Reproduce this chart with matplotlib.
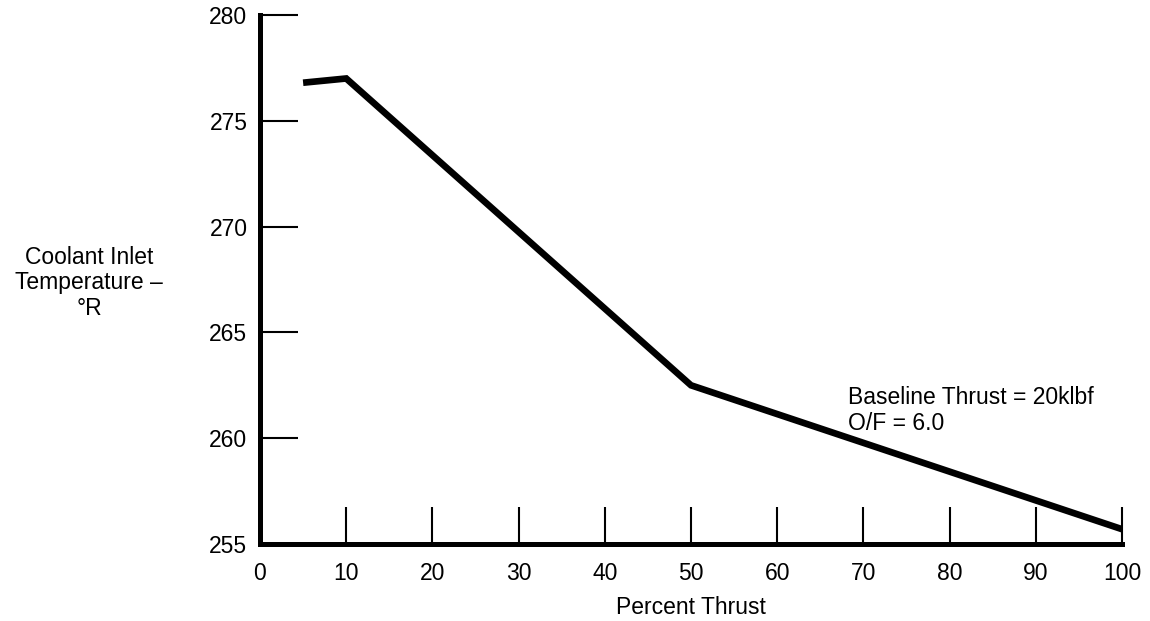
import matplotlib
matplotlib.use("Agg")
import matplotlib.pyplot as plt

plt.rcParams['font.family'] = ['Liberation Sans', 'DejaVu Sans']

# data
thrust = [5, 10, 50, 100]
temp = [276.8, 277.0, 262.5, 255.7]
xticks = [0, 10, 20, 30, 40, 50, 60, 70, 80, 90, 100]
yticks = [255, 260, 265, 270, 275, 280]

fs = 16.5

fig = plt.figure(figsize=(11.5, 6.21), dpi=100)
ax = fig.add_axes([260 / 1150, 1 - 544 / 621, 862 / 1150, 529 / 621])

ax.plot(thrust, temp, color="black", lw=4.8, solid_capstyle="butt", solid_joinstyle="miter")

ax.set_xlim(0, 100)
ax.set_ylim(255, 280)
ax.set_xticks(xticks)
ax.set_yticks(yticks)

for side in ["top", "right"]:
    ax.spines[side].set_visible(False)
for side in ["left", "bottom"]:
    ax.spines[side].set_linewidth(3.6)
    ax.spines[side].set_capstyle("projecting")

ax.tick_params(axis="both", direction="in", length=27, width=1.5, labelsize=fs)
ax.tick_params(axis="y", pad=9)
ax.tick_params(axis="x", pad=13)

ax.set_xlabel("Percent Thrust", fontsize=fs, labelpad=8)

fig.text(89 / 1150, 1 - 283 / 621, "Coolant Inlet\nTemperature \u2013\n\u00b0R",
         ha="center", va="center", fontsize=fs, linespacing=1.15)

ax.text(68.2, 261.3, "Baseline Thrust = 20klbf\nO/F = 6.0",
        ha="left", va="center", fontsize=fs, linespacing=1.2)

fig.savefig("out.png", dpi=100)
